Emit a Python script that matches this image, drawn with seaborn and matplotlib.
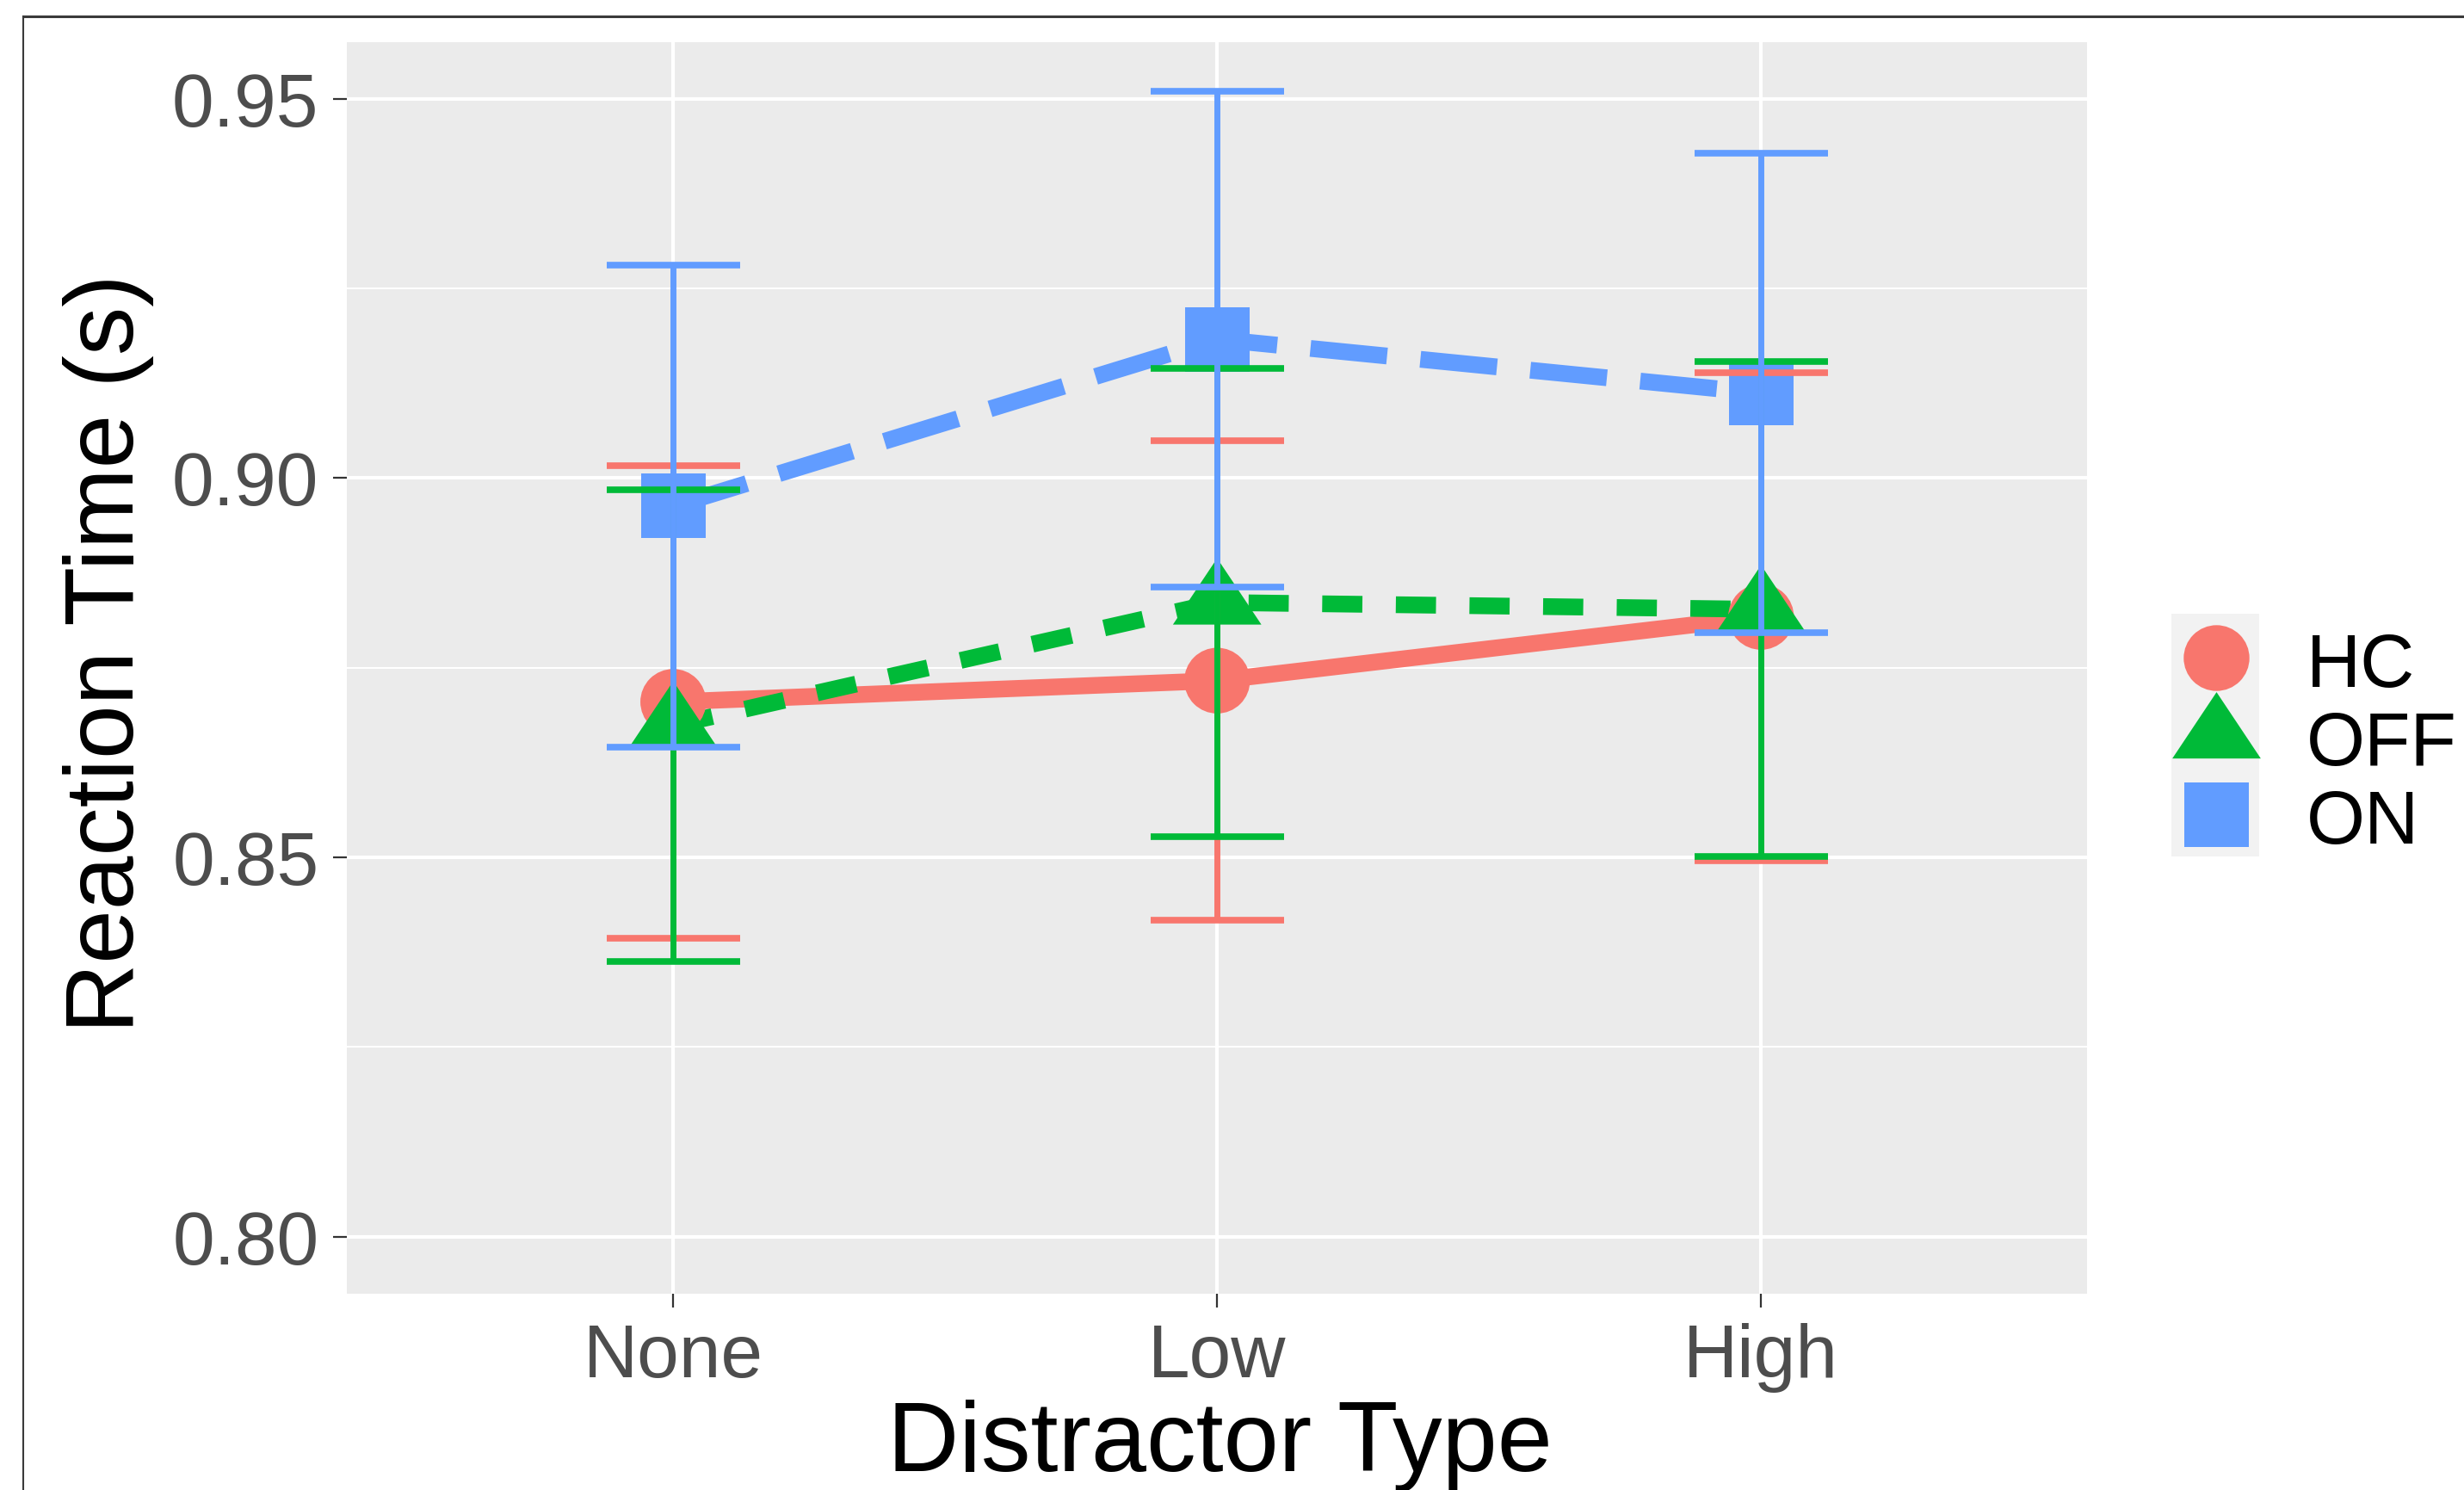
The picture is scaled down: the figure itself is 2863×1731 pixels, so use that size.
import matplotlib
matplotlib.use("Agg")
import matplotlib.pyplot as plt
import pandas as pd
import seaborn as sns
from matplotlib.lines import Line2D
from matplotlib.patches import Rectangle

# valores (média e meia-amplitude da barra de erro)
distractors = ["None", "Low", "High"]
groups = ["HC", "OFF", "ON"]
hc_rt = [0.8705, 0.8733, 0.8817]
hc_err = [0.0311, 0.0316, 0.0322]
off_rt = [0.8674, 0.8836, 0.8827]
off_err = [0.0311, 0.0309, 0.0326]
on_rt = [0.8963, 0.9183, 0.9112]
on_err = [0.0318, 0.0327, 0.0316]
y_ticks = [0.80, 0.85, 0.90, 0.95]
y_minor = [0.825, 0.875, 0.925]
y_limits = (0.7925, 0.9575)

colors = {"HC": "#F8766D", "OFF": "#00BA38", "ON": "#619CFF"}
dashes = {"HC": "", "OFF": (2.4, 2.0), "ON": (4.6, 2.0)}
TRIANGLE = [(-1, -0.5), (1, -0.5), (0, 1)]
markers = {"HC": "o", "OFF": TRIANGLE, "ON": "s"}
marker_pt = {"HC": 55, "OFF": 74, "ON": 54}

W, H = 2863, 1731


def fx(px):
    return px / W


def fy(px):
    return 1 - px / H


rows = []
for grp, rt, err in zip(groups, [hc_rt, off_rt, on_rt], [hc_err, off_err, on_err]):
    for i, d in enumerate(distractors):
        rows.append({"group": grp, "distractor": d, "pos": i, "rt": rt[i], "err": err[i]})
df = pd.DataFrame(rows)

plt.rcParams["font.family"] = ["Liberation Sans", "DejaVu Sans"]

fig = plt.figure(figsize=(28.635, 17.315), dpi=100)
ax = fig.add_axes([fx(403), fy(1503), fx(2425) - fx(403), fy(49) - fy(1503)])

sns.lineplot(
    data=df, x="pos", y="rt", hue="group", style="group",
    hue_order=groups, style_order=groups, palette=colors, dashes=dashes,
    linewidth=14, errorbar=None, legend=False, ax=ax,
    solid_capstyle="butt", dash_capstyle="butt", zorder=2,
)
sns.scatterplot(
    data=df, x="pos", y="rt", hue="group", style="group", size="group",
    hue_order=groups, style_order=groups, size_order=groups,
    palette=colors, markers=markers,
    sizes={g: marker_pt[g] ** 2 for g in groups},
    linewidth=0, legend=False, ax=ax, zorder=3,
)
for grp in groups:
    sub = df[df["group"] == grp]
    ax.errorbar(
        sub["pos"], sub["rt"], yerr=sub["err"], fmt="none",
        ecolor=colors[grp], elinewidth=5, capsize=55.8, capthick=5.5, zorder=4,
    )

# tema cinza tipo ggplot
ax.set_facecolor("#EBEBEB")
for s in ax.spines.values():
    s.set_visible(False)
ax.set_xlim(-0.6, 2.6)
ax.set_ylim(*y_limits)
ax.set_xticks(range(len(distractors)), distractors)
ax.set_yticks(y_ticks, [f"{v:.2f}" for v in y_ticks])
ax.set_yticks(y_minor, minor=True)
ax.grid(which="major", color="white", lw=3)
ax.grid(which="minor", axis="y", color="white", lw=1.5)
ax.set_axisbelow(True)
ax.tick_params(which="major", length=11.5, width=1.6, color="#333333",
               labelsize=63, labelcolor="#4D4D4D")
ax.tick_params(axis="y", pad=12)
ax.tick_params(axis="x", pad=13)
ax.tick_params(which="minor", length=0)

ax.set_xlabel("Distractor Type", fontsize=83, color="black")
ax.set_ylabel("Reaction Time (s)", fontsize=81, color="black")
ax.xaxis.set_label_coords(0.5015, -0.084)
ax.yaxis.set_label_coords(-0.111, 0.512)

# legenda só com os símbolos
handles = [
    Line2D([], [], linestyle="None", marker=markers[g], markersize=marker_pt[g],
           markerfacecolor=colors[g], markeredgewidth=0)
    for g in groups
]
ax.legend(
    handles, groups, loc="center left",
    bbox_to_anchor=(fx(2523), fy(864)), bbox_transform=fig.transFigure,
    frameon=False, fontsize=63, handlelength=1.17, handleheight=0.95,
    handletextpad=0.62, labelspacing=0.06, borderpad=0, borderaxespad=0,
)
fig.add_artist(Rectangle((fx(2523), fy(995)), fx(102), 282 / H,
                         transform=fig.transFigure, facecolor="#F2F2F2",
                         edgecolor="none", zorder=-1))

# moldura do recorte original
fig.add_artist(Line2D([fx(27), 1], [fy(19), fy(19)], transform=fig.transFigure,
                      color="#3a3a3a", lw=2.2))
fig.add_artist(Line2D([fx(27), fx(27)], [fy(19), 0], transform=fig.transFigure,
                      color="#3a3a3a", lw=1.5))

fig.savefig("out.png", dpi=100)
